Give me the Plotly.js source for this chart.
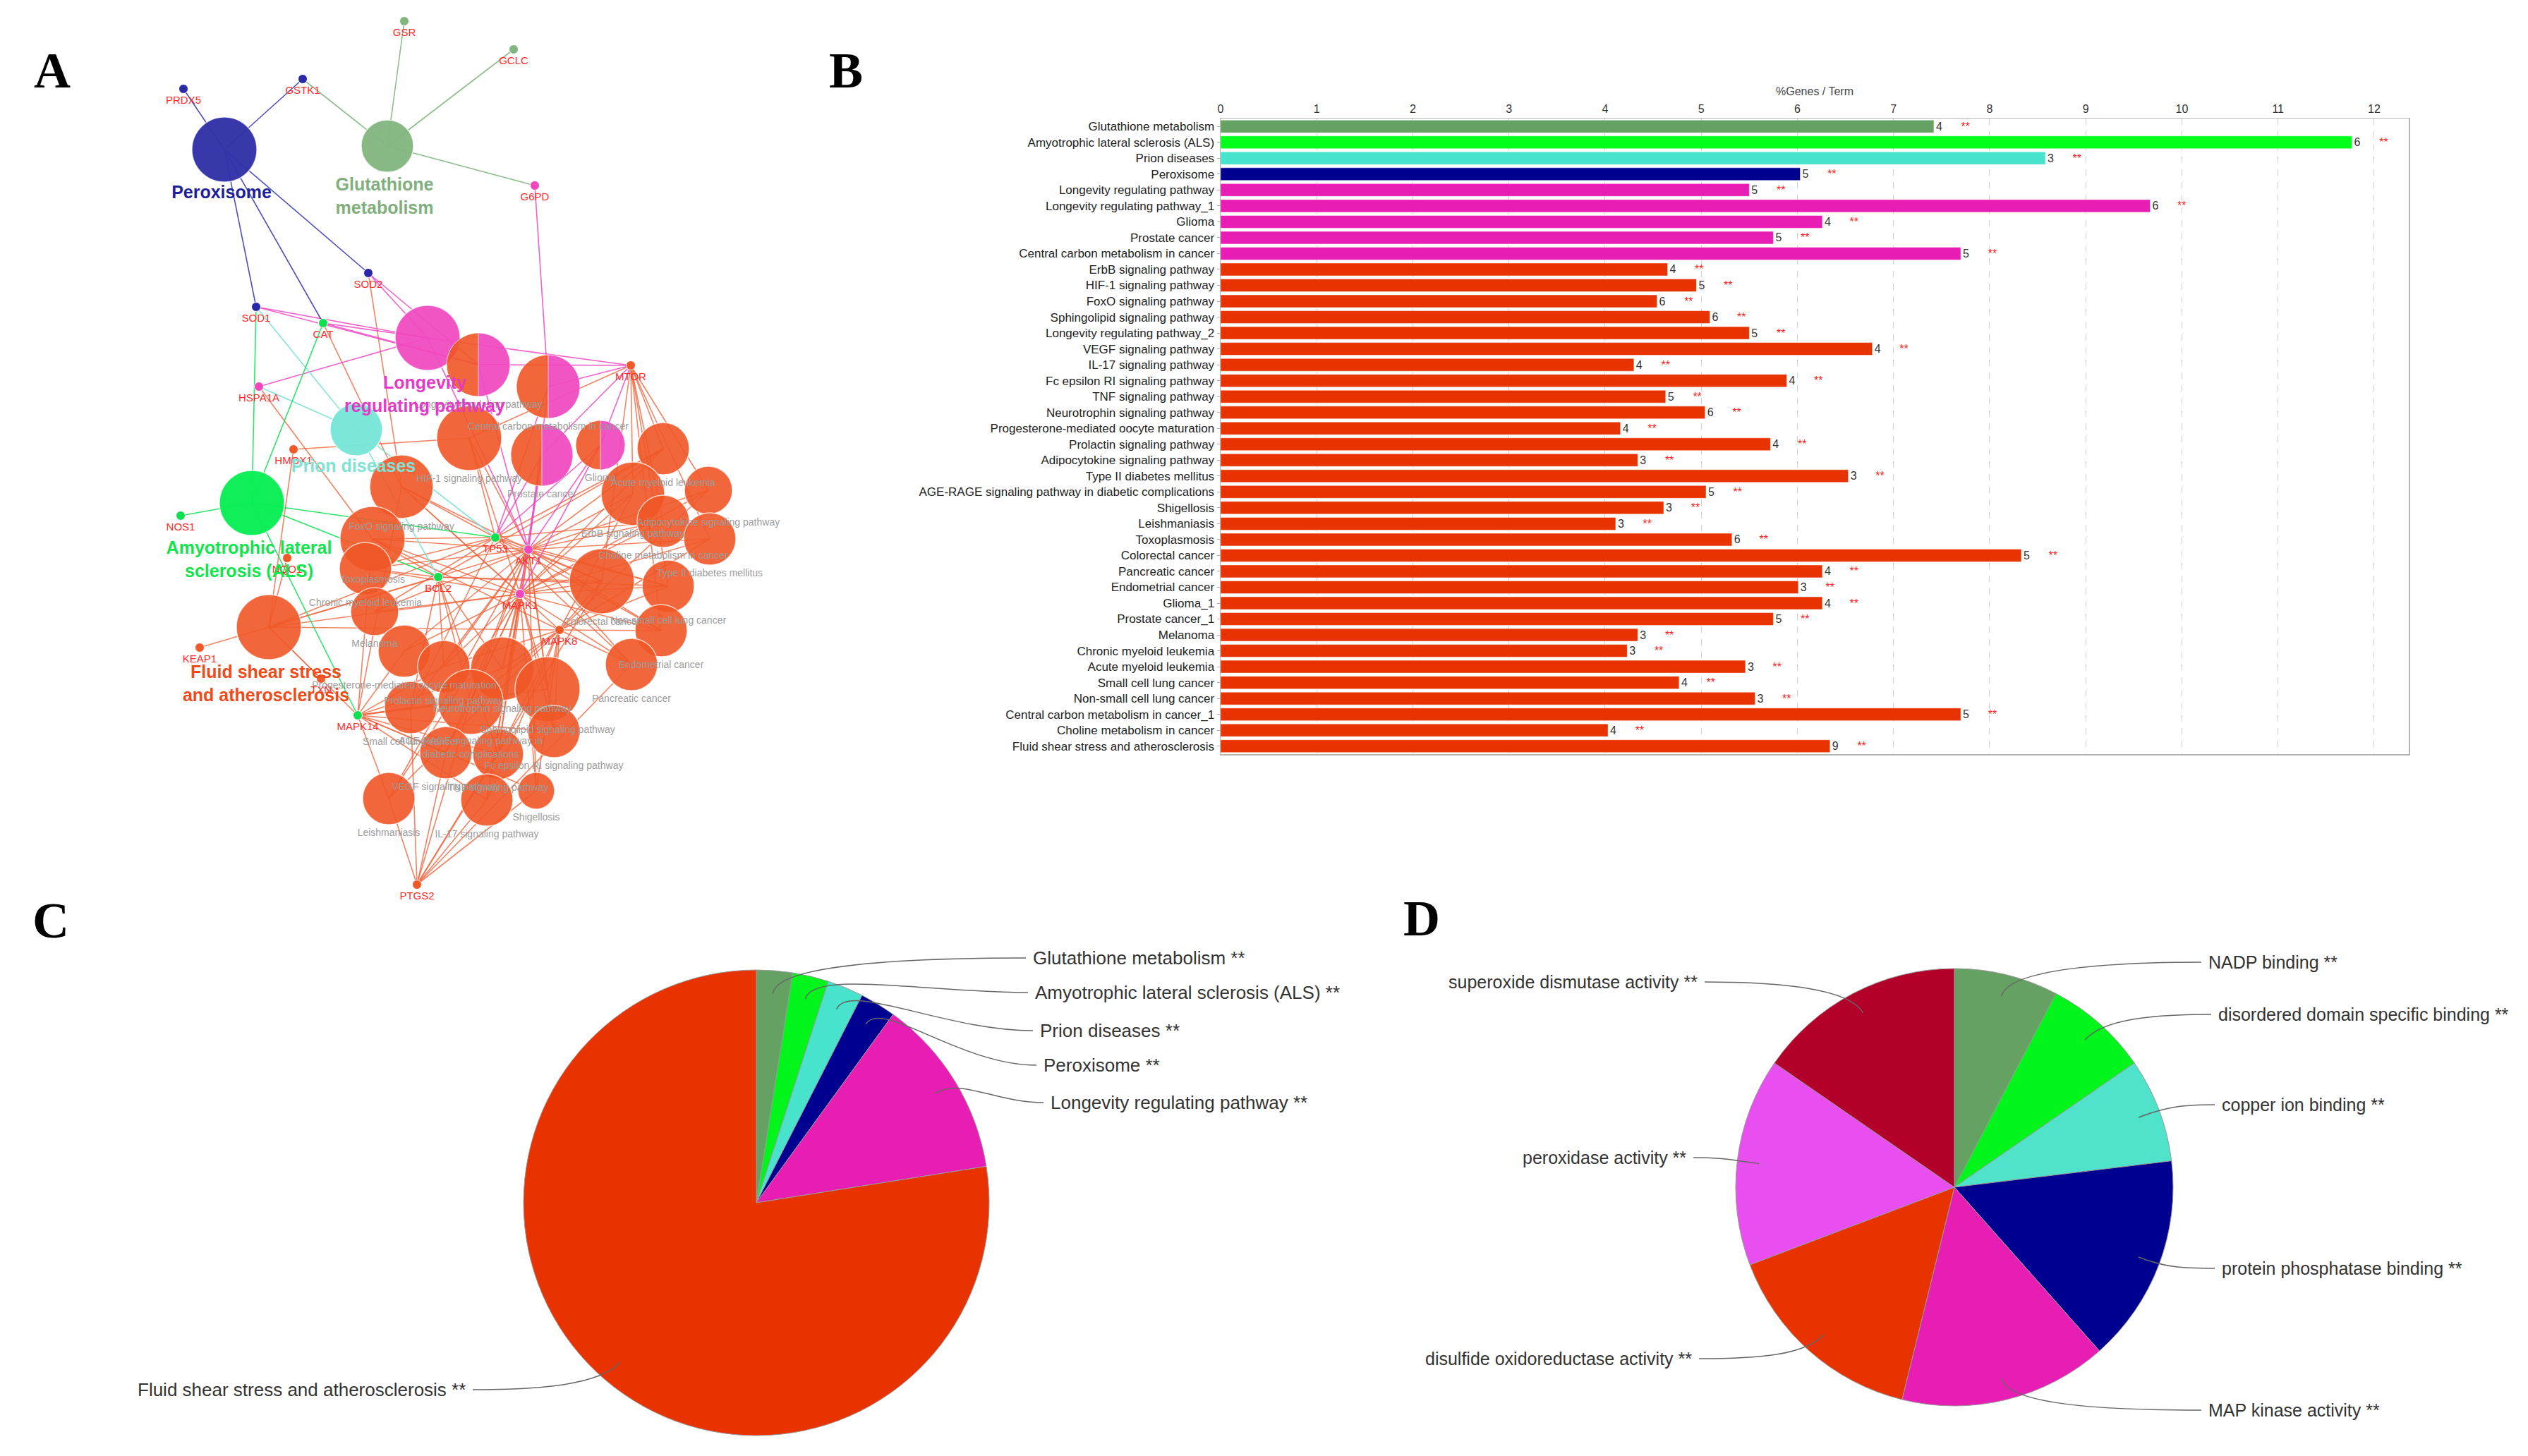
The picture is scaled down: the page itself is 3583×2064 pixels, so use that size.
<!DOCTYPE html>
<html>
<head>
<meta charset="utf-8">
<script src="https://cdn.plot.ly/plotly-3.0.1.min.js"></script>
<style>html,body{margin:0;padding:0;background:#fff;}#chart{width:3583px;height:2064px;}</style>
</head>
<body>
<div id="chart"></div>
<script>
// ---------------- DATA ----------------
// Panel B: KEGG terms, % genes / term, number of genes
const barTerms = ['Glutathione metabolism','Amyotrophic lateral sclerosis (ALS)','Prion diseases','Peroxisome',
 'Longevity regulating pathway','Longevity regulating pathway_1','Glioma','Prostate cancer','Central carbon metabolism in cancer',
 'ErbB signaling pathway','HIF-1 signaling pathway','FoxO signaling pathway','Sphingolipid signaling pathway','Longevity regulating pathway_2',
 'VEGF signaling pathway','IL-17 signaling pathway','Fc epsilon RI signaling pathway','TNF signaling pathway','Neurotrophin signaling pathway',
 'Progesterone-mediated oocyte maturation','Prolactin signaling pathway','Adipocytokine signaling pathway','Type II diabetes mellitus',
 'AGE-RAGE signaling pathway in diabetic complications','Shigellosis','Leishmaniasis','Toxoplasmosis','Colorectal cancer','Pancreatic cancer',
 'Endometrial cancer','Glioma_1','Prostate cancer_1','Melanoma','Chronic myeloid leukemia','Acute myeloid leukemia','Small cell lung cancer',
 'Non-small cell lung cancer','Central carbon metabolism in cancer_1','Choline metabolism in cancer','Fluid shear stress and atherosclerosis'];
const barPct = [7.42,11.77,8.58,6.03,5.50,9.67,6.26,5.75,7.70,4.65,4.95,4.54,5.09,5.50,6.78,4.30,5.89,4.63,5.04,4.16,5.72,4.34,6.53,5.05,
 4.61,4.11,5.32,8.33,6.26,6.01,6.26,5.75,4.34,4.23,5.46,4.77,5.56,7.70,4.03,6.34];
const barGenes = [4,6,3,5,5,6,4,5,5,4,5,6,6,5,4,4,4,5,6,4,4,3,3,5,3,3,6,5,4,3,4,5,3,3,3,4,3,5,4,9];
const barGroup = ['glut','als','prion','perox','long','long','long','long','long'].concat(Array(31).fill('fluid'));
const barStars = '**';

// Panel C: term groups
const pieCLabels = ['Glutathione metabolism **','Amyotrophic lateral sclerosis (ALS) **','Prion diseases **','Peroxisome **',
 'Longevity regulating pathway **','Fluid shear stress and atherosclerosis **'];
const pieCValues = [1,1,1,1,5,31];

// Panel D: GO molecular function groups
const pieDLabels = ['NADP binding **','disordered domain specific binding **','copper ion binding **','protein phosphatase binding **',
 'MAP kinase activity **','disulfide oxidoreductase activity **','peroxidase activity **','superoxide dismutase activity **'];
const pieDValues = [1,1,1,2,2,2,2,2];

// Panel A: network (term nodes: key, label, x, y, radius, group)
const termNodes = [
 ['PER','Peroxisome',318,212,46,'perox'],
 ['GLU','Glutathione metabolism',549,207,37,'glut'],
 ['LRP','Longevity regulating pathway',606,479,46,'long'],
 ['LRP1','Longevity regulating pathway',678,517,45,'half'],
 ['CCM','Central carbon metabolism in cancer',777,548,45,'half'],
 ['PRC','Prostate cancer',768,645,44,'half'],
 ['GLI','Glioma',851,631,35,'half'],
 ['PRI','Prion diseases',505,609,37,'prion'],
 ['ALS','Amyotrophic lateral sclerosis (ALS)',357,713,46,'als'],
 ['FSS','Fluid shear stress and atherosclerosis',381,889,46,'fluid'],
 ['HIF','HIF-1 signaling pathway',665,621,46,'fluid'],
 ['AML','Acute myeloid leukemia',940,636,37,'fluid'],
 ['FOXO','FoxO signaling pathway',569,690,45,'fluid'],
 ['ERBB','ErbB signaling pathway',897,700,45,'fluid'],
 ['ADI','Adipocytokine signaling pathway',1004,695,34,'fluid'],
 ['CHO','Choline metabolism in cancer',940,739,37,'fluid'],
 ['T2D','Type II diabetes mellitus',1006,764,37,'fluid'],
 ['TOX','Toxoplasmosis',528,764,46,'fluid'],
 ['CML','Chronic myeloid leukemia',518,806,37,'fluid'],
 ['COL','Colorectal cancer',853,824,46,'fluid'],
 ['NSC','Non-small cell lung cancer',947,831,37,'fluid'],
 ['MEL','Melanoma',531,867,34,'fluid'],
 ['END','Endometrial cancer',937,894,37,'fluid'],
 ['PAN','Pancreatic cancer',895,942,37,'fluid'],
 ['PRO','Progesterone-mediated oocyte maturation',573,923,37,'fluid'],
 ['PRL','Prolactin signaling pathway',629,945,37,'fluid'],
 ['NEU','Neurotrophin signaling pathway',712,948,45,'fluid'],
 ['SPH','Sphingolipid signaling pathway',776,977,46,'fluid'],
 ['AGE','AGE-RAGE signaling pathway in<br>diabetic complications',667,995,46,'fluid'],
 ['SCL','Small cell lung cancer',582,1003,37,'fluid'],
 ['FCE','Fc epsilon RI signaling pathway',785,1037,37,'fluid'],
 ['VEGF','VEGF signaling pathway',632,1067,37,'fluid'],
 ['TNF','TNF signaling pathway',706,1069,36,'fluid'],
 ['SHI','Shigellosis',760,1121,26,'fluid'],
 ['LEI','Leishmaniasis',551,1132,37,'fluid'],
 ['IL17','IL-17 signaling pathway',690,1134,37,'fluid']
];
// gene nodes: name, x, y, group colour key
const geneNodes = [
 ['GSR',573,30,'glut'],['GCLC',728,70,'glut'],['GSTK1',429,112,'perox'],['PRDX5',260,126,'perox'],['G6PD',758,263,'long'],
 ['SOD2',522,387,'perox'],['SOD1',363,435,'perox'],['CAT',458,458,'als'],['MTOR',894,518,'fluid'],['HSPA1A',367,548,'long'],
 ['HMOX1',416,637,'fluid'],['NOS1',256,731,'als'],['NQO1',407,791,'fluid'],['TP53',702,762,'als'],['AKT1',749,779,'long'],
 ['BCL2',621,818,'als'],['MAPK1',737,842,'long'],['KEAP1',283,918,'fluid'],['MAPK8',793,893,'fluid'],['TXN',455,962,'fluid'],
 ['MAPK14',507,1014,'als'],['PTGS2',591,1254,'fluid']
];
const geneLinks = {
 PRDX5:['PER'], GSTK1:['PER','GLU'], GSR:['GLU'], GCLC:['GLU'], G6PD:['GLU','CCM'],
 SOD2:['PER','LRP','LRP1','FOXO'], SOD1:['PER','LRP','LRP1','PRI','ALS'], CAT:['PER','LRP','LRP1','ALS','FOXO'],
 HSPA1A:['LRP','PRI','TOX'],
 MTOR:['LRP','LRP1','CCM','PRC','GLI','HIF','AML','ERBB','ADI','CHO','T2D','COL','NSC','END'],
 HMOX1:['HIF','FSS'], NOS1:['ALS'], NQO1:['FSS'], KEAP1:['FSS'], TXN:['FSS'],
 TP53:['ALS','PRI','CCM','PRC','GLI','FSS','FOXO','TOX','CML','COL','NSC','MEL','END','PAN','SCL','AML','CHO','HIF'],
 AKT1:['LRP','LRP1','CCM','PRC','GLI','FSS','HIF','FOXO','TOX','CML','AML','ERBB','ADI','CHO','T2D','COL','NSC','MEL','END','PAN','SCL','PRO','PRL','NEU','SPH','AGE','FCE','VEGF','TNF','IL17','LEI','SHI'],
 BCL2:['ALS','PRI','FSS','TOX','CML','AML','COL','NSC','SCL','PRL','NEU','AGE','TNF'],
 MAPK1:['PRC','GLI','FSS','HIF','FOXO','TOX','CML','AML','ERBB','ADI','CHO','T2D','COL','NSC','MEL','END','PAN','PRO','PRL','NEU','SPH','AGE','FCE','VEGF','TNF','IL17','LEI','SHI'],
 MAPK8:['FSS','FOXO','TOX','COL','NSC','END','PAN','NEU','SPH','AGE','FCE','TNF','T2D','ADI','ERBB','IL17','LEI','SHI','PRL'],
 MAPK14:['ALS','FSS','FOXO','TOX','PRO','PRL','NEU','SPH','AGE','SCL','FCE','VEGF','TNF','SHI','LEI','IL17'],
 PTGS2:['VEGF','TNF','LEI','IL17','SHI','AGE','SCL','COL','PAN']
};
const groupLabelText = {PER:'Peroxisome', GLU:'Glutathione<br>metabolism', LRP:'Longevity<br>regulating pathway',
 PRI:'Prion diseases', ALS:'Amyotrophic lateral<br>sclerosis (ALS)', FSS:'Fluid shear stress<br>and atherosclerosis'};

// ---------------- STYLE ----------------
const W = 3583, H = 2064;
const fx = x => x / W, fy = y => 1 - y / H;
const FONT = 'Liberation Sans, Arial, sans-serif';
const barColors = {glut:'#65a162', als:'#00ff1a', prion:'#48e3cc', perox:'#00008f', long:'#e81eb4', fluid:'#e83300'};
const nodeColors = {perox:'rgba(50,50,168,0.97)', glut:'rgba(132,182,128,0.97)', long:'rgba(240,72,192,0.93)', half:'rgba(240,72,192,0.93)',
 prion:'rgba(120,230,215,0.97)', als:'rgba(8,238,84,0.97)', fluid:'rgba(240,86,38,0.9)'};
const edgeColors = {perox:'rgba(60,60,180,0.9)', glut:'rgba(130,182,128,0.9)', long:'rgba(240,70,195,0.85)', prion:'rgba(120,225,210,0.9)',
 als:'rgba(20,225,90,0.9)', fluid:'rgba(240,100,60,0.8)'};
const geneColors = {perox:'#2a2aa8', glut:'#82b680', long:'#f046be', als:'#10e050', fluid:'#f05a28'};
const groupLabelColors = {perox:'#1f1f9c', glut:'#7faf7c', long:'#e33ac7', prion:'#7fe2d5', als:'#12e54b', fluid:'#f04a18'};

const traces = [];
const termMap = {};
termNodes.forEach(t => termMap[t[0]] = {key:t[0], label:t[1], x:t[2], y:t[3], r:t[4], g:t[5]});

// edges
const edgeSeg = {};
geneNodes.forEach(g => {
  (geneLinks[g[0]] || []).forEach(k => {
    const t = termMap[k];
    const eg = (t.g === 'half') ? 'long' : t.g;
    if (!edgeSeg[eg]) edgeSeg[eg] = {x:[], y:[]};
    edgeSeg[eg].x.push(g[1], t.x, null);
    edgeSeg[eg].y.push(g[2], t.y, null);
  });
});
['fluid','long','prion','als','perox','glut'].forEach(eg => {
  if (!edgeSeg[eg]) return;
  traces.push({type:'scatter', mode:'lines', x:edgeSeg[eg].x, y:edgeSeg[eg].y, xaxis:'x', yaxis:'y',
    line:{color:edgeColors[eg], width:1.6}, hoverinfo:'skip', showlegend:false});
});

// term nodes (full)
const full = termNodes.filter(t => t[5] !== 'half');
traces.push({type:'scatter', mode:'markers', x:full.map(t=>t[2]), y:full.map(t=>t[3]), xaxis:'x', yaxis:'y',
  text:full.map(t=>t[1]), hoverinfo:'text',
  marker:{size:full.map(t=>2*t[4]), opacity:1, color:full.map(t=>nodeColors[t[5]]), line:{color:'rgba(255,255,255,0.7)', width:1.5}},
  showlegend:false});

// half nodes: left orange / right pink
function halfPoly(list, a0, a1) {
  const xs = [], ys = [];
  list.forEach(t => {
    for (let i = 0; i <= 40; i++) {
      const a = (a0 + (a1 - a0) * i / 40) * Math.PI / 180;
      xs.push(t[2] + t[4] * Math.cos(a)); ys.push(t[3] + t[4] * Math.sin(a));
    }
    xs.push(t[2]); ys.push(t[3] - t[4]); xs.push(null); ys.push(null);
  });
  return {xs, ys};
}
const halves = termNodes.filter(t => t[5] === 'half');
const hl = halfPoly(halves, 90, 270), hr = halfPoly(halves, -90, 90);
traces.push({type:'scatter', mode:'lines', x:hl.xs, y:hl.ys, xaxis:'x', yaxis:'y', fill:'toself',
  fillcolor:nodeColors.fluid, line:{color:'rgba(255,255,255,0.7)', width:1}, hoverinfo:'skip', showlegend:false});
traces.push({type:'scatter', mode:'lines', x:hr.xs, y:hr.ys, xaxis:'x', yaxis:'y', fill:'toself',
  fillcolor:nodeColors.long, line:{color:'rgba(255,255,255,0.7)', width:1}, hoverinfo:'skip', showlegend:false});

// gene nodes
traces.push({type:'scatter', mode:'markers', x:geneNodes.map(g=>g[1]), y:geneNodes.map(g=>g[2]), xaxis:'x', yaxis:'y',
  text:geneNodes.map(g=>g[0]), hoverinfo:'text',
  marker:{size:13, opacity:1, color:geneNodes.map(g=>geneColors[g[3]]), line:{color:'#fff', width:1}}, showlegend:false});

// small grey term labels
const grey = termNodes.filter(t => !groupLabelText[t[0]]);
traces.push({type:'scatter', mode:'text', x:grey.map(t=>t[2]), y:grey.map(t=>t[3] + t[4] + 12 + (t[1].includes('<br>') ? 8 : 0)),
  xaxis:'x', yaxis:'y', text:grey.map(t=>t[1]), textposition:'middle center',
  textfont:{family:FONT, size:14, color:'#9c9c9c'}, hoverinfo:'skip', showlegend:false});

// gene labels
traces.push({type:'scatter', mode:'text', x:geneNodes.map(g=>g[1]), y:geneNodes.map(g=>g[2] + 17), xaxis:'x', yaxis:'y',
  text:geneNodes.map(g=>g[0]), textposition:'middle center', textfont:{family:FONT, size:15, color:'#ff2b2b'},
  hoverinfo:'skip', showlegend:false});

// group labels
const grp = termNodes.filter(t => groupLabelText[t[0]]);
grp.forEach(t => {
  const txt = groupLabelText[t[0]];
  const two = txt.includes('<br>');
  traces.push({type:'scatter', mode:'text', x:[t[2] - 4], y:[t[3] + t[4] + (two ? 36 : 17)], xaxis:'x', yaxis:'y',
    text:['<b>' + txt + '</b>'], textposition:'middle center',
    textfont:{family:FONT, size:25, color:groupLabelColors[t[5]]}, hoverinfo:'skip', showlegend:false});
});

// ---------------- Panel B bars ----------------
const nb = '\u00a0';
traces.push({type:'bar', orientation:'h', x:barPct, y:barTerms, xaxis:'x2', yaxis:'y2',
  marker:{color:barGroup.map(g=>barColors[g]), line:{color:'rgba(255,255,255,0.5)', width:1}},
  text:barGenes.map(n => n + nb.repeat(6) + '<span style="color:#ff1a1a">' + barStars + '</span>'),
  textposition:'outside', constraintext:'none', cliponaxis:false,
  textfont:{family:FONT, size:16, color:'#333'},
  hovertemplate:'%{y}: %{x}%<extra></extra>', showlegend:false});

// ---------------- Panels C & D pies ----------------
const pieC = {cx:1072, cy:1705, r:330, font:26};
const pieD = {cx:2770, cy:1683, r:310, font:25};
const pieCColors = ['#65a162','#00f51b','#48e3cc','#000090','#e81eb4','#e83300'];
const pieDColors = ['#65a162','#00f51b','#4fe3cc','#000090','#e81eb4','#e83300','#e94ff0','#b3002b'];
function pieTrace(p, labels, values, colors) {
  return {type:'pie', labels:labels, values:values, sort:false, direction:'clockwise', rotation:0,
    textinfo:'none', hoverinfo:'label+value',
    domain:{x:[fx(p.cx - p.r), fx(p.cx + p.r)], y:[fy(p.cy + p.r), fy(p.cy - p.r)]},
    marker:{colors:colors, line:{color:'#9a9a9a', width:1}}, showlegend:false};
}
traces.push(pieTrace(pieC, pieCLabels, pieCValues, pieCColors));
traces.push(pieTrace(pieD, pieDLabels, pieDValues, pieDColors));

// label anchor positions (pixels) for pie labels
const pieCLabelPos = [[1462,1358,'left'],[1465,1407,'left'],[1472,1461,'left'],[1477,1510,'left'],[1487,1563,'left'],[662,1970,'right']];
const pieDLabelPos = [[3128,1364,'left'],[3142,1438,'left'],[3147,1566,'left'],[3147,1798,'left'],[3128,1999,'left'],
  [2400,1926,'right'],[2392,1641,'right'],[2408,1392,'right']];

const shapes = [], annotations = [];
function leaders(p, labels, values, pos) {
  const total = values.reduce((a,b)=>a+b, 0);
  let cum = 0;
  values.forEach((v, i) => {
    const mid = (cum + v / 2) / total * 2 * Math.PI; cum += v;
    const dx = Math.sin(mid), dy = -Math.cos(mid);
    const p0 = [p.cx + 0.9 * p.r * dx, p.cy + 0.9 * p.r * dy];
    const p1 = [p.cx + 1.03 * p.r * dx, p.cy + 1.03 * p.r * dy];
    const [lx, ly, side] = pos[i];
    const ex = side === 'left' ? lx - 8 : lx + 8;
    const p2 = [ex - (ex - p0[0]) * 0.45, ly];
    shapes.push({type:'path', xref:'paper', yref:'paper', layer:'above',
      path:`M ${fx(p0[0])},${fy(p0[1])} C ${fx(p1[0])},${fy(p1[1])} ${fx(p2[0])},${fy(p2[1])} ${fx(ex)},${fy(ly)}`,
      line:{color:'#666', width:1.5}});
    annotations.push({xref:'paper', yref:'paper', x:fx(lx), y:fy(ly), xanchor:side, yanchor:'middle', showarrow:false,
      text:labels[i], font:{family:FONT, size:p.font, color:'#333'}});
  });
}
leaders(pieC, pieCLabels, pieCValues, pieCLabelPos);
leaders(pieD, pieDLabels, pieDValues, pieDLabelPos);

// panel letters
[['A',74,100],['B',1199,100],['C',72,1305],['D',2015,1302]].forEach(l => {
  annotations.push({xref:'paper', yref:'paper', x:fx(l[1]), y:fy(l[2]), xanchor:'center', yanchor:'middle', showarrow:false,
    text:'<b>' + l[0] + '</b>', font:{family:'Liberation Serif, Times New Roman, serif', size:72, color:'#000'}});
});

const layout = {
  width:W, height:H, margin:{l:0, r:0, t:0, b:0}, paper_bgcolor:'#fff', plot_bgcolor:'rgba(0,0,0,0)',
  font:{family:FONT, color:'#333'}, showlegend:false, bargap:0.2,
  xaxis:{domain:[0, fx(1150)], range:[0,1150], visible:false, fixedrange:true},
  yaxis:{domain:[fy(1300), 1], range:[1300,0], visible:false, fixedrange:true},
  xaxis2:{domain:[fx(1730), fx(3414)], anchor:'y2', side:'top', range:[0,12.36], dtick:1, tick0:0,
    showgrid:true, gridcolor:'#cfcfcf', griddash:'dash', gridwidth:1, zeroline:false,
    showline:true, linecolor:'#b5b5b5', linewidth:1.5, mirror:true, ticks:'',
    tickfont:{family:FONT, size:16, color:'#333'},
    title:{text:'%Genes / Term', font:{family:FONT, size:16, color:'#444'}, standoff:6}},
  yaxis2:{domain:[fy(1069), fy(168)], anchor:'x2', type:'category', autorange:'reversed', dtick:1,
    showline:true, linecolor:'#b5b5b5', linewidth:1.5, mirror:true, ticks:'outside', ticklen:4, tickcolor:'#aaa',
    showgrid:false, tickfont:{family:FONT, size:17, color:'#222'}},
  shapes:shapes, annotations:annotations
};

Plotly.newPlot('chart', traces, layout, {staticPlot:true, displayModeBar:false});
</script>
</body>
</html>
